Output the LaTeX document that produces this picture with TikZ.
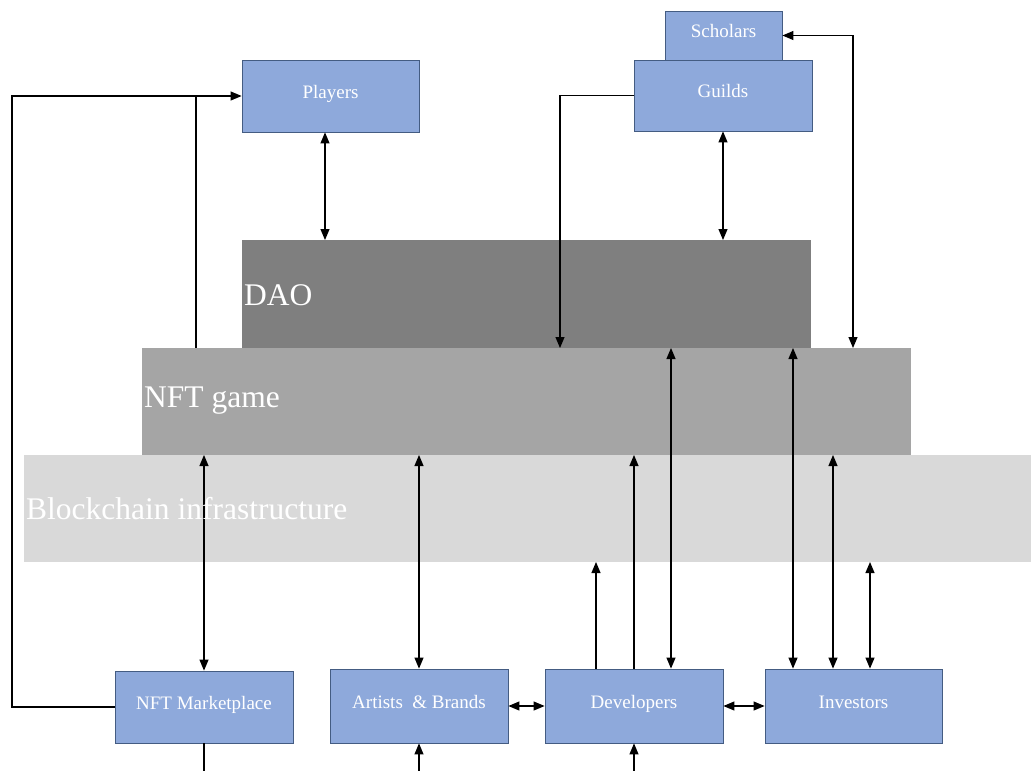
\documentclass[tikz,border=0pt]{standalone}
\usepackage{fontspec}
\setmainfont{Liberation Serif}
\usetikzlibrary{arrows.meta}
\definecolor{boxfill}{RGB}{142,169,219}
\definecolor{boxline}{RGB}{68,92,130}
\definecolor{daogray}{RGB}{127,127,127}
\definecolor{gamegray}{RGB}{165,165,165}
\definecolor{chaingray}{RGB}{217,217,217}
\tikzset{
  box/.style={draw=boxline, fill=boxfill, line width=0.8pt, text=white,
    font=\fontsize{19}{22}\selectfont, inner sep=0pt,
    text height=0.68em, text depth=0.2em,
    minimum width=178, minimum height=73},
  layer/.style={inner sep=0pt, outer sep=0pt, draw=none},
  biglabel/.style={text=white, font=\fontsize{31.5}{35}\selectfont,
    inner sep=0pt, anchor=west},
  conn/.style={line width=1.1pt, draw=black},
  tip/.tip={Triangle[length=11pt,width=9pt]},
  onearr/.style={conn, -tip},
  twoarr/.style={conn, tip-tip}
}
\begin{document}
\begin{tikzpicture}[x=1pt,y=-1pt]
\useasboundingbox (0,0) rectangle (1031,771);

% stacked layers
\node[layer, fill=chaingray, minimum width=1007, minimum height=107] (chain) at (527.5,508.5) {};
\node[layer, fill=gamegray, minimum width=769, minimum height=107] (game) at (526.5,401.5) {};
\node[layer, fill=daogray, minimum width=569, minimum height=108] (dao) at (526.5,294) {};

% actors
\node[box, minimum width=117, minimum height=49] (scholars) at (723.5,35.5) {Scholars};
\node[box, minimum height=71] (guilds) at (723,95.5) {Guilds};
\node[box, minimum width=177, minimum height=72] (players) at (330.5,96) {Players};
\node[box, minimum height=72] (market) at (204,707) {NFT Marketplace};
\node[box, minimum height=74] (artists) at (419,706) {Artists~ \& Brands};
\node[box, minimum height=74] (dev) at (634,706) {Developers};
\node[box, minimum width=177, minimum height=74] (inv) at (853.5,706) {Investors};

% helper coordinates for routed connectors
\coordinate (lx) at (12,96);
\coordinate (jx) at (196,96);
\coordinate (px) at (325,0);
\coordinate (gx) at (560,0);
\coordinate (sx) at (853,0);
\coordinate (d1) at (596,0);
\coordinate (d3) at (671,0);
\coordinate (i1) at (793,0);
\coordinate (i2) at (833,0);
\coordinate (i3) at (870,0);
\coordinate (bot) at (0,771);

% upper connectors
\draw[onearr] (market.west) -- (market.west -| lx) -- (lx) -- (players.west);
\draw[conn] (game.north -| jx) -- (jx);
\draw[twoarr] (players.south -| px) -- (dao.north -| px);
\draw[twoarr] (guilds.south) -- (guilds.south |- dao.north);
\draw[twoarr] (scholars.east) -| (game.north -| sx);
\draw[onearr] (guilds.west) -| (game.north -| gx);

% lower connectors
\draw[twoarr] (game.south -| market.north) -- (market.north);
\draw[conn] (market.south) -- (market.south |- bot);
\draw[twoarr] (game.south -| artists.north) -- (artists.north);
\draw[onearr] (artists.south |- bot) -- (artists.south);
\draw[twoarr] (artists.east) -- (dev.west);
\draw[twoarr] (dev.east) -- (inv.west);
\draw[onearr] (dev.south |- bot) -- (dev.south);
\draw[onearr] (dev.north -| d1) -- (chain.south -| d1);
\draw[onearr] (dev.north) -- (game.south -| dev.north);
\draw[twoarr] (dao.south -| d3) -- (dev.north -| d3);
\draw[twoarr] (dao.south -| i1) -- (inv.north -| i1);
\draw[twoarr] (game.south -| i2) -- (inv.north -| i2);
\draw[twoarr] (chain.south -| i3) -- (inv.north -| i3);

% layer captions
\node[biglabel] (daotxt) at (244,295) {DAO};
\node[biglabel] (gametxt) at (144,401) {NFT game};
\node[biglabel] (chaintxt) at (26,509) {Blockchain infrastructure};
\end{tikzpicture}
\end{document}
